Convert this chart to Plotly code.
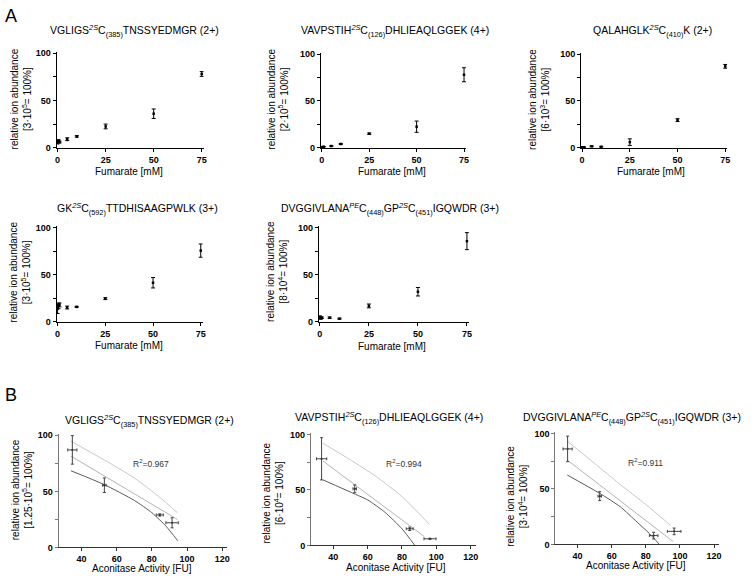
import plotly.graph_objects as go

FONT = "Arial, Liberation Sans, sans-serif"
W, H = 756, 580

# ---------------- Panel A data (Fumarate titration) ----------------
fum_x = [0, 0.5, 1, 5, 10, 25, 50, 75]

a1_y = [6, 7, 6, 9, 12, 22.5, 36, 78]
a1_err = [2, 1.5, 1, 1.5, 0.8, 2.5, 5, 2.5]
a2_y = [0.5, 0.8, 1, 1.8, 4, 15, 22.5, 78]
a2_err = [0.3, 0.3, 0.3, 0.3, 0.5, 0.8, 6, 7.5]
a3_y = [0.5, 0.5, 0.5, 1.5, 1, 6, 29.5, 87]
a3_err = [0.3, 0.3, 0.3, 0.5, 0.5, 3.5, 1.5, 2]
a4_y = [14, 17, 18, 15.3, 16, 24.7, 41.5, 75.5]
a4_err = [5, 3, 2, 1.5, 0.5, 1, 5.5, 7]
a5_y = [5, 4, 4.5, 4.5, 3.5, 17, 32, 85.5]
a5_err = [1.5, 1, 0.8, 0.8, 0.5, 2, 4.5, 9]

a_titles = [
    "VGLIGS<sup><i>2S</i></sup>C<sub>(385)</sub>TNSSYEDMGR (2+)",
    "VAVPSTIH<sup><i>2S</i></sup>C<sub>(126)</sub>DHLIEAQLGGEK (4+)",
    "QALAHGLK<sup><i>2S</i></sup>C<sub>(410)</sub>K (2+)",
    "GK<sup><i>2S</i></sup>C<sub>(592)</sub>TTDHISAAGPWLK (3+)",
    "DVGGIVLANA<sup><i>PE</i></sup>C<sub>(448)</sub>GP<sup><i>2S</i></sup>C<sub>(451)</sub>IGQWDR (3+)",
]
a_scales = [
    "[3·10<sup>5</sup>= 100%]",
    "[2·10<sup>5</sup>= 100%]",
    "[6·10<sup>3</sup>= 100%]",
    "[3·10<sup>5</sup>= 100%]",
    "[8·10<sup>4</sup>= 100%]",
]
a_xticks = [0, 25, 50, 75]
y_ticks = [0, 50, 100]

# ---------------- Panel B data (Aconitase activity correlation) ----------------
b1_x = [34.8, 53, 84.5, 91.5]
b1_xerr = [2.6, 1, 2, 3.5]
b1_y = [87, 55.5, 29, 22]
b1_yerr = [12.7, 6.5, 1, 4.5]
b1_up_x = [34, 53, 70, 85, 94.5]
b1_up_y = [94.7, 78, 62, 44, 31]
b1_mid_x = [34, 94.5]
b1_mid_y = [81.5, 25]
b1_lo_x = [34, 53, 70, 80, 88, 94.7]
b1_lo_y = [68.4, 56, 42, 31, 19, 6]

b2_x = [33.2, 52.5, 84.5, 96.3]
b2_xerr = [3, 1, 2, 3.5]
b2_y = [78, 51, 15, 6]
b2_yerr = [19, 3.5, 1.5, 0.5]
b2_up_x = [34, 50, 65, 80, 96]
b2_up_y = [92, 77, 62, 44, 19]
b2_mid_x = [34, 93]
b2_mid_y = [76, 8]
b2_lo_x = [34, 53, 60, 70, 80, 87.5]
b2_lo_y = [59, 46, 41, 30, 15, 0]

b3_x = [34.2, 53, 84.6, 96.6]
b3_xerr = [2.7, 1, 2.5, 4]
b3_y = [86, 43.5, 8, 11.8]
b3_yerr = [11.5, 4, 3, 3]
b3_up_x = [34, 50, 65, 80, 94.7]
b3_up_y = [93, 73, 54, 36, 17]
b3_mid_x = [34, 96]
b3_mid_y = [76, 2.6]
b3_lo_x = [34, 53, 65, 75, 82, 88]
b3_lo_y = [62.5, 46, 34, 20, 10, 0]

b_titles = [a_titles[0], a_titles[1], a_titles[4]]
b_scales = [
    "[1.25·10<sup>5</sup>= 100%]",
    "[6·10<sup>4</sup>= 100%]",
    "[3·10<sup>4</sup>= 100%]",
]
b_r2 = ["R<sup>2</sup>=0.967", "R<sup>2</sup>=0.994", "R<sup>2</sup>=0.911"]
b_xticks = [40, 60, 80, 100, 120]

# ---------------- geometry (pixels) ----------------
a_geom = [(55, 203, 49, 146), (321, 467, 50, 146), (583, 730, 50, 146),
          (55, 202, 226, 323), (319, 470, 226, 323)]
a_title_pos = [(133, 27), (396, 27), (655, 27), (136, 208), (391, 208)]
a_ytitle_pos = [(19, 96), (278, 97), (541, 97), (18, 272), (277, 272)]
a_xtitle_pos = [(128, 170), (393, 170), (653, 170), (128, 347), (393, 348)]

b_geom = [(57, 227, 437, 552), (311, 477, 436, 550), (557, 722, 435, 549)]
b_title_pos = [(148, 424), (390, 421), (634, 421)]
b_ytitle_pos = [(20, 493), (273, 497), (519, 500)]
b_xtitle_pos = [(141, 573), (397, 572), (638, 570)]
b_r2_pos = [(150, 467), (405, 467), (648, 466)]


def px(x):
    return x / W


def py(y):
    return 1 - y / H


fig = go.Figure()
annotations = []
layout_axes = {}


def ann(text, x, y, size, angle=0, color="black"):
    annotations.append(dict(text=text, x=px(x), y=py(y), xref="paper", yref="paper",
                            showarrow=False, textangle=angle, xanchor="center",
                            yanchor="middle", font=dict(family=FONT, size=size, color=color)))


def axes(i, geom, xr, yr, xticks, ylinecolor="black", xlinecolor="black"):
    x0, x1, yt, yb = geom
    sx = "" if i == 1 else str(i)
    tickfont = dict(family=FONT, size=9, color="black", weight="bold")
    layout_axes["xaxis" + sx] = dict(
        domain=[px(x0), px(x1)], range=xr, anchor="y" + sx, showgrid=False, zeroline=False,
        showline=True, linecolor=xlinecolor, linewidth=1, ticks="outside", ticklen=3,
        tickcolor=xlinecolor, tickvals=xticks, tickfont=tickfont, fixedrange=True)
    layout_axes["yaxis" + sx] = dict(
        domain=[py(yb), py(yt)], range=yr, anchor="x" + sx, showgrid=False, zeroline=False,
        showline=True, linecolor=ylinecolor, linewidth=1, ticks="outside", ticklen=3,
        tickcolor=ylinecolor, tickvals=y_ticks, tickfont=tickfont, fixedrange=True,
        minor=dict(tick0=0, dtick=25, ticks="outside", ticklen=3, tickcolor=ylinecolor,
                   showgrid=False))
    return ("x" + sx, "y" + sx)


a_series = [(a1_y, a1_err), (a2_y, a2_err), (a3_y, a3_err), (a4_y, a4_err), (a5_y, a5_err)]
for k, (ys, es) in enumerate(a_series):
    i = k + 1
    xa, ya = axes(i, a_geom[k], [-0.5, 76], [0, 101], a_xticks)
    fig.add_trace(go.Scatter(
        x=fum_x, y=ys, mode="markers", xaxis=xa, yaxis=ya, cliponaxis=False,
        marker=dict(size=2.5, color="black", symbol="square"),
        error_y=dict(type="data", array=es, visible=True, color="black", thickness=1, width=2),
        showlegend=False, hoverinfo="skip"))
    ann(a_titles[k], *a_title_pos[k], 10.5)
    ann("relative ion abundance<br>" + a_scales[k], *a_ytitle_pos[k], 10, angle=-90)
    ann("Fumarate [mM]", *a_xtitle_pos[k], 10)

b_series = [
    (b1_x, b1_xerr, b1_y, b1_yerr, b1_up_x, b1_up_y, b1_mid_x, b1_mid_y, b1_lo_x, b1_lo_y),
    (b2_x, b2_xerr, b2_y, b2_yerr, b2_up_x, b2_up_y, b2_mid_x, b2_mid_y, b2_lo_x, b2_lo_y),
    (b3_x, b3_xerr, b3_y, b3_yerr, b3_up_x, b3_up_y, b3_mid_x, b3_mid_y, b3_lo_x, b3_lo_y),
]
for k, (bx, bxe, by, bye, ux, uy, mx, my, lx, ly) in enumerate(b_series):
    i = k + 6
    xa, ya = axes(i, b_geom[k], [27, 123], [0, 101], b_xticks, ylinecolor="#777777",
                  xlinecolor="#333333")
    for lxs, lys, col in [(ux, uy, "#c8c8c8"), (mx, my, "#b4b4b4"), (lx, ly, "#5a5a5a")]:
        fig.add_trace(go.Scatter(x=lxs, y=lys, mode="lines", xaxis=xa, yaxis=ya,
                                 line=dict(color=col, width=1, shape="spline", smoothing=0.6),
                                 showlegend=False, hoverinfo="skip", cliponaxis=False))
    fig.add_trace(go.Scatter(
        x=bx, y=by, mode="markers", xaxis=xa, yaxis=ya, cliponaxis=False,
        marker=dict(size=2, color="#333333"),
        error_y=dict(type="data", array=bye, visible=True, color="#444444", thickness=1, width=1.5),
        error_x=dict(type="data", array=bxe, visible=True, color="#444444", thickness=1, width=1.5),
        showlegend=False, hoverinfo="skip"))
    ann(b_titles[k], *b_title_pos[k], 10.5)
    ann("relative ion abundance<br>" + b_scales[k], *b_ytitle_pos[k], 10, angle=-90)
    ann("Aconitase Activity [FU]", *b_xtitle_pos[k], 10)
    ann(b_r2[k], *b_r2_pos[k], 8.5, color="#333333")

ann("A", 9, 12, 18)
ann("B", 9, 397, 18)

fig.update_layout(
    width=W, height=H, margin=dict(l=0, r=0, t=0, b=0),
    paper_bgcolor="white", plot_bgcolor="white",
    font=dict(family=FONT, color="black"),
    annotations=annotations, showlegend=False, **layout_axes)

fig.write_html("out.html", config={"displayModeBar": False},
               post_script="document.body.style.margin='0';document.body.style.padding='0';")
